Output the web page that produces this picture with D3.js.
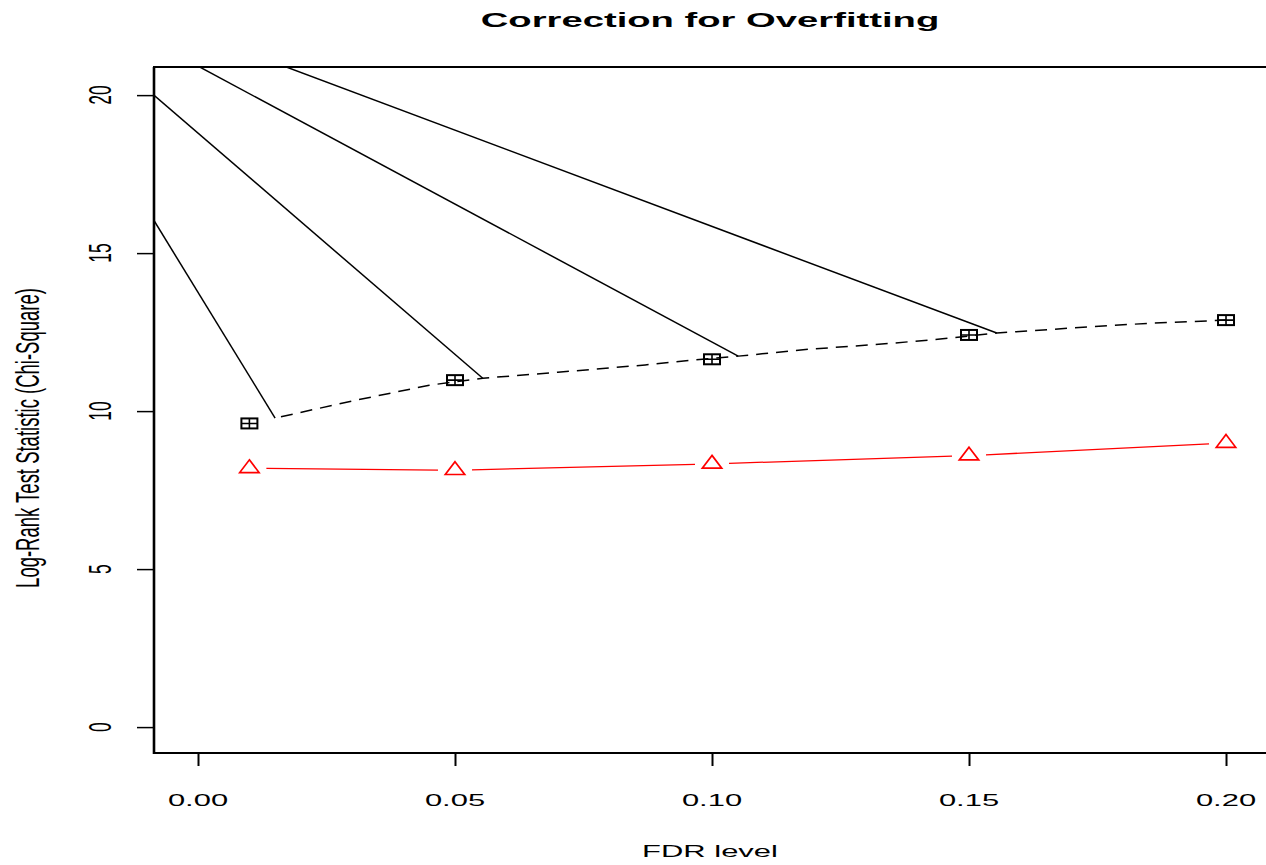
<!DOCTYPE html>
<html>
<head>
<meta charset="utf-8">
<script src="https://cdn.jsdelivr.net/npm/d3@7"></script>
<style>
  body { margin: 0; background: #fff; }
  text { font-family: "Liberation Sans", Arial, sans-serif; }
</style>
</head>
<body>
<div id="chart"></div>
<script>
// data
const fdrLevels = [0.01, 0.05, 0.10, 0.15, 0.20]
const observedStat = [9.61, 10.98, 11.64, 12.41, 12.88]
const correctedStat = [8.19, 8.13, 8.33, 8.59, 8.99]

// dashed curve
const curveFdr = [0.015, 0.030, 0.045, 0.0554, 0.070, 0.087, 0.096, 0.1051, 0.119, 0.133, 0.1444, 0.1554, 0.170, 0.185, 0.200]
const curveStat = [9.78, 10.32, 10.82, 11.04, 11.23, 11.46, 11.61, 11.74, 11.96, 12.12, 12.28, 12.47, 12.63, 12.78, 12.88]

// solid guide lines (start at left edge, end on the curve)
const guideFromFdr = [-0.0086, -0.0086, -0.0086, -0.0086]
const guideFromStat = [16.04, 20.0, 21.67, 22.46]
const guideToFdr = [0.015, 0.0554, 0.1051, 0.1554]
const guideToStat = [9.78, 11.04, 11.74, 12.47]

const xTicks = [0, 0.05, 0.10, 0.15, 0.20]
const yTicks = [0, 5, 10, 15, 20]

const width = 1266
const height = 865
const S = 1.82 // horizontal stretch of the original render

const x = d3.scaleLinear([-0.00856, 0.20778], [154, 1266])
const y = d3.scaleLinear([-0.82, 20.89], [753, 67])

const svg = d3.create('svg')
  .attr('width', width)
  .attr('height', height)
  .attr('viewBox', [0, 0, width, height])

document.getElementById('chart').appendChild(svg.node())

svg.append('clipPath')
  .attr('id', 'plot-clip')
  .append('rect')
  .attr('x', 154).attr('y', 67)
  .attr('width', 1266 - 154).attr('height', 753 - 67)

// box
svg.append('rect')
  .attr('x', 154).attr('y', 67)
  .attr('width', 1266 - 154 + 5).attr('height', 753 - 67)
  .attr('fill', 'none')
  .attr('stroke', '#000')
  .attr('stroke-width', 2)
svg.append('line')
  .attr('x1', 154).attr('x2', 154)
  .attr('y1', 67).attr('y2', 754)
  .attr('stroke', '#000')
  .attr('stroke-width', 2.6)

// axes
const xAxis = svg.append('g')
  .attr('transform', 'translate(0,753)')
  .call(d3.axisBottom(x).tickValues(xTicks).tickSize(13).tickSizeOuter(0))
xAxis.select('.domain').remove()
xAxis.selectAll('.tick line').attr('stroke-width', 2)
xAxis.selectAll('.tick text').remove()

const yAxis = svg.append('g')
  .attr('transform', 'translate(154,0)')
  .call(d3.axisLeft(y).tickValues(yTicks).tickSize(17).tickSizeOuter(0))
yAxis.select('.domain').remove()
yAxis.selectAll('.tick line').attr('stroke-width', 1.5)
yAxis.selectAll('.tick text').remove()

// tick labels
svg.append('g')
  .selectAll('text')
  .data(xTicks)
  .join('text')
  .attr('transform', d => `translate(${x(d)},806) scale(${S},1)`)
  .attr('text-anchor', 'middle')
  .attr('font-size', 17)
  .text(d => d3.format('.2f')(d))

svg.append('g')
  .selectAll('text')
  .data(yTicks)
  .join('text')
  .attr('transform', d => `translate(111,${y(d)}) scale(${S},1) rotate(-90)`)
  .attr('text-anchor', 'middle')
  .attr('font-size', 17.5)
  .text(d => d)

// titles
svg.append('text')
  .attr('transform', `translate(710,27) scale(${S},1)`)
  .attr('text-anchor', 'middle')
  .attr('font-size', 21)
  .attr('font-weight', 'bold')
  .text('Correction for Overfitting')

svg.append('text')
  .attr('transform', `translate(710,857) scale(${S},1)`)
  .attr('text-anchor', 'middle')
  .attr('font-size', 17)
  .text('FDR level')

svg.append('text')
  .attr('transform', `translate(39,438) scale(${S},1) rotate(-90)`)
  .attr('text-anchor', 'middle')
  .attr('font-size', 18.5)
  .text('Log-Rank Test Statistic (Chi-Square)')

const plot = svg.append('g').attr('clip-path', 'url(#plot-clip)')

// guide lines
plot.append('g')
  .selectAll('line')
  .data(d3.range(guideFromFdr.length))
  .join('line')
  .attr('x1', i => x(guideFromFdr[i]))
  .attr('y1', i => y(guideFromStat[i]))
  .attr('x2', i => x(guideToFdr[i]))
  .attr('y2', i => y(guideToStat[i]))
  .attr('stroke', '#000')
  .attr('stroke-width', 1.5)

// dashed curve
const curve = curveFdr.map((f, i) => [f, curveStat[i]])
plot.append('path')
  .datum(curve)
  .attr('d', d3.line().x(d => x(d[0])).y(d => y(d[1])))
  .attr('fill', 'none')
  .attr('stroke', '#000')
  .attr('stroke-width', 1.5)
  .attr('stroke-dasharray', '12,8')
  .attr('stroke-dashoffset', -6)

// red line, type "b" with gaps around markers
const gap = 17
const redPts = fdrLevels.map((f, i) => [x(f), y(correctedStat[i])])
const segs = d3.pairs(redPts).map(([a, b]) => {
  const dx = b[0] - a[0], dy = b[1] - a[1]
  const len = Math.hypot(dx, dy)
  const ux = dx / len, uy = dy / len
  return [a[0] + ux * gap, a[1] + uy * gap, b[0] - ux * gap, b[1] - uy * gap]
})
plot.append('g')
  .selectAll('line')
  .data(segs)
  .join('line')
  .attr('x1', d => d[0]).attr('y1', d => d[1])
  .attr('x2', d => d[2]).attr('y2', d => d[3])
  .attr('stroke', '#f00')
  .attr('stroke-width', 1.3)

// triangles
const tri = 'M0,-8.5 L9.7,4.3 L-9.7,4.3 Z'
plot.append('g')
  .selectAll('path')
  .data(fdrLevels)
  .join('path')
  .attr('transform', (d, i) => `translate(${x(d)},${y(correctedStat[i])})`)
  .attr('d', tri)
  .attr('fill', 'none')
  .attr('stroke', '#f00')
  .attr('stroke-width', 1.7)

// squares with plus
const sq = plot.append('g')
  .selectAll('g')
  .data(fdrLevels)
  .join('g')
  .attr('transform', (d, i) => `translate(${x(d)},${y(observedStat[i])})`)
sq.append('rect')
  .attr('x', -8).attr('y', -5)
  .attr('width', 16).attr('height', 10)
  .attr('fill', 'none')
  .attr('stroke', '#000')
  .attr('stroke-width', 2)
sq.append('path')
  .attr('d', 'M-8,0 H8 M0,-5 V5')
  .attr('stroke', '#000')
  .attr('stroke-width', 1.6)
</script>
</body>
</html>
